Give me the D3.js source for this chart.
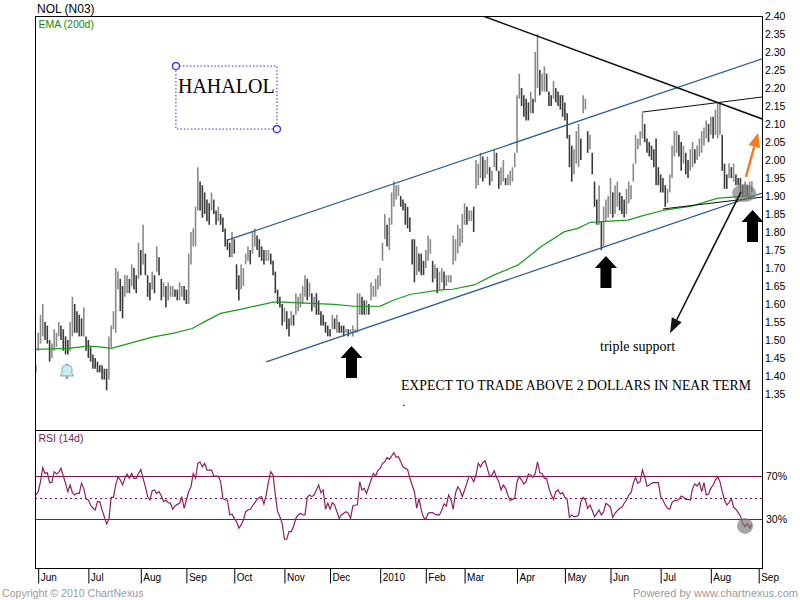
<!DOCTYPE html>
<html lang="en">
<head>
<meta charset="UTF-8">
<title>NOL (N03)</title>
<script src="https://d3js.org/d3.v7.min.js"></script>
<style>
    body { margin: 0; background: #fff; }
    svg { display: block; }
    .sans { font-family: "Liberation Sans", Arial, sans-serif; }
    .serif { font-family: "Liberation Serif", "Times New Roman", serif; }
</style>
</head>
<body>
<svg id="chart" width="800" height="600"></svg>
<script>
// daily bars, first bar sits one trading day before 1 Jun 2009 (index -1), prices in cents
const firstIdx = -1;
const priceHigh = [
    143, 152, 157, 160, 155, 154, 150, 149, 153, 152, 155, 154, 153, 151, 150, 155, 162, 160, 158, 157, 156, 159, 151,
    150, 148, 146, 145, 144, 143, 143, 142, 142, 151, 154, 158, 170, 169, 167, 165, 168, 168, 167, 171, 170, 168,
    177, 175, 182, 174, 168, 166, 169, 168, 176, 173, 167, 166, 165, 166, 165, 165, 164, 164, 166, 165, 165,
    164, 174, 180, 181, 187, 198, 194, 193, 191, 189, 188, 191, 189, 186, 187, 185, 184, 181, 178, 177, 180,
    178, 171, 168, 171, 170, 174, 176, 175, 180, 181, 179, 178, 176, 175, 175, 175, 174, 172, 169, 164, 162,
    160, 159, 158, 156, 158, 157, 163, 162, 163, 165, 168, 167, 166, 163, 162, 163, 161, 158, 157,
    155, 154, 153, 157, 156, 157, 155, 154, 154, 153, 153, 153, 154, 153, 163, 163, 162, 161, 161, 160, 166, 165, 167, 168,
    170, 177, 185, 182, 184, 191, 194, 193, 193, 190, 189, 188, 187, 184, 178, 178, 176, 174, 174, 172,
    175, 179, 178, 172, 171, 170, 169, 170, 169, 168, 168, 168, 179, 178, 182, 181, 185,
    188, 187, 186, 186, 187, 200, 199, 202, 201, 200, 201, 198, 197, 203, 202, 197, 198, 200, 195, 196, 197, 198, 202,
    218, 224, 220, 218, 217, 216, 219, 217, 230, 235, 225, 224, 226, 224, 219, 218, 222, 220, 219, 218, 218,
    216, 213, 207, 204, 203, 208, 210, 206, 218, 217, 208, 207, 202, 194, 189, 193, 183, 187, 189, 190,
    195, 191, 193, 194, 191, 190, 189, 192, 194, 193, 199, 207, 206, 208, 213, 210, 206, 205, 204, 203, 206, 198,
    196, 195, 193, 192, 196, 204, 208, 208, 207, 205, 204, 202, 200, 203, 205, 203, 204, 206, 208, 209, 211, 210,
    212, 212, 214, 216, 216, 207, 199, 196, 199, 198, 199, 196, 195, 195, 193, 194, 193, 194, 194
];
const priceLow = [
    141, 147, 149, 151, 150, 149, 144, 145, 147, 148, 151, 150, 147, 146, 146, 147, 151, 152, 152, 151, 151, 151, 147,
    145, 144, 142, 142, 141, 141, 139, 139, 136, 139, 148, 153, 152, 164, 158, 156, 162, 163, 163, 165, 164, 163,
    167, 168, 171, 168, 162, 161, 164, 163, 169, 168, 161, 162, 159, 161, 162, 162, 162, 161, 161, 162, 161,
    160, 160, 171, 176, 176, 186, 186, 184, 185, 183, 182, 186, 185, 182, 183, 182, 180, 176, 175, 173, 173,
    174, 164, 161, 164, 165, 171, 172, 171, 174, 176, 175, 173, 172, 171, 172, 172, 171, 168, 163, 160, 159,
    154, 155, 153, 151, 154, 154, 157, 158, 159, 160, 162, 161, 162, 158, 159, 157, 157, 154, 154,
    152, 151, 151, 153, 153, 152, 152, 152, 151, 152, 151, 152, 151, 152, 152, 157, 157, 157, 157, 157, 161, 162, 162, 164,
    165, 172, 178, 176, 175, 182, 187, 189, 190, 187, 186, 182, 181, 180, 171, 166, 168, 169, 168, 168,
    170, 172, 174, 166, 167, 163, 164, 166, 164, 165, 166, 166, 171, 172, 174, 176, 177,
    182, 182, 183, 183, 180, 192, 193, 195, 194, 195, 196, 193, 194, 198, 197, 192, 193, 194, 193, 193, 193, 194, 198,
    202, 217, 215, 212, 211, 211, 213, 213, 216, 220, 218, 219, 219, 219, 215, 215, 217, 216, 215, 214, 212,
    211, 206, 198, 194, 196, 199, 198, 200, 213, 214, 202, 203, 196, 187, 182, 182, 175, 176, 183, 184,
    185, 184, 185, 187, 186, 185, 184, 185, 188, 189, 194, 199, 203, 204, 206, 205, 202, 201, 200, 198, 193, 193,
    191, 191, 187, 188, 191, 195, 201, 202, 201, 197, 199, 196, 195, 197, 198, 199, 200, 201, 202, 204, 206, 205,
    207, 206, 207, 206, 207, 197, 192, 192, 195, 195, 194, 193, 193, 191, 190, 190, 190, 190, 191
];

// RSI (14d), same day indexing as the bars
const rsiValues = [
    52.3, 55.3, 64.5, 77.3, 72.1, 72.7, 63.6, 63.6, 73.7, 71.5, 73, 76.7, 69.7, 63, 55.3, 61.5, 54.4, 52.3, 53.8, 53.8,
    63, 58.4, 48.3, 47.7, 43.1, 40.1, 38.6, 46.2, 46.2, 38.6, 32.4, 25.7, 30, 50.2, 50.2, 61.5, 69.1, 66, 61.5, 67.6,
    71.5, 67.6, 72.1, 67.6, 67.6, 72.1, 75.8, 67.6, 59.9, 50.8, 47.7, 56.3, 56.9, 53.8, 55.3, 51.4, 46.2, 47.7, 45.3,
    44.7, 39.2, 42.2, 43.7, 44.7, 50.2, 40.1, 47.7, 55.3, 59.9, 72.1, 67.6, 81.3, 82.5, 78.2, 81.3, 75.2, 75.2, 75.2,
    69.7, 69.7, 69.7, 64.5, 49.2, 47.7, 47.7, 34, 34.9, 30.9, 27.9, 21.8, 24.8, 29.4, 37, 38.6, 39.2, 42.2, 45.3, 48.3,
    50.2, 50.8, 44.1, 52.3, 64.5, 73.7, 70.6, 52.3, 37, 32.4, 26.3, 11.7, 11.7, 18.7, 18.7, 23.3, 30.9, 34, 35.5, 34,
    34, 50.2, 52.3, 50.8, 52.3, 56.9, 61.5, 54.4, 56.9, 39.2, 44.7, 39.2, 45.3, 43.1, 37, 30.9, 34, 35.5, 37, 35.5,
    30.9, 42.2, 43.1, 43.1, 64.5, 56.9, 58.4, 53.8, 59.9, 66, 72.1, 69.7, 75.2, 76.7, 81.3, 82.8, 86.8, 85, 88, 91.1,
    86.8, 87.4, 82.8, 78.2, 76.7, 75.8, 67.6, 61.5, 55.3, 40.1, 49.2, 38.6, 31.8, 30, 35.5, 36.1, 36.1, 34.6, 34, 34,
    38.6, 44.1, 42.2, 52.3, 48.3, 39.2, 53.8, 59.9, 56.9, 50.8, 56.9, 63, 69.7, 68.5, 64.5, 70.6, 81.3, 78.2, 81.9,
    83.7, 76.7, 69.1, 70.6, 74.6, 68.5, 64.5, 56.9, 61.5, 58.4, 52.3, 47.1, 48.3, 49.2, 64.5, 69.1, 66, 62.4, 64.5,
    71.5, 70.6, 68.5, 72.1, 82.8, 72.7, 72.1, 67.6, 67.6, 58.4, 52.3, 48.3, 55.3, 56.9, 53.2, 54.4, 50.2, 48.3, 31.8,
    34, 32.4, 32.4, 34, 46.2, 50.2, 47.7, 40.1, 43.1, 38, 32.4, 35.5, 38.6, 34, 37, 44.7, 43.1, 41, 31.8, 35.5, 38,
    40.1, 41, 44.7, 47.7, 52.3, 54.4, 63, 68.5, 63, 64.5, 75.2, 69.1, 60.5, 61.5, 63, 63.6, 63.6, 63.6, 50.8, 47.7,
    43.1, 40.1, 39.2, 45.3, 47.1, 47.1, 48.3, 51.4, 50.2, 48.3, 48.3, 47.7, 58.4, 62.4, 60.5, 63.6, 55.3, 63.6, 52.3,
    53.2, 58.4, 61.5, 66, 69.1, 64.5, 55.3, 47.7, 43.1, 45.3, 49.2, 41, 39.2, 36.1, 33.1, 26.3, 23.3, 26.3, 21.8, 25.7
];

// EMA (200d) read at points along the green line
const emaIdx = [-1.5, 13, 22, 28, 32, 42.5, 50, 60, 67.5, 73, 80, 88.6, 103, 107.6, 129.7, 140, 150, 156, 163.4,
    176.6, 181.7, 191.2, 200, 210.3, 216, 220.5, 230.8, 236.7, 242.2, 252.7, 258.6, 264.5, 274.7, 286.5, 298.2, 307, 313.7];
const emaVal = [1.474, 1.477, 1.483, 1.480, 1.477, 1.495, 1.508, 1.520, 1.532, 1.551, 1.574, 1.585, 1.605, 1.605,
    1.599, 1.593, 1.594, 1.611, 1.627, 1.639, 1.641, 1.653, 1.681, 1.708, 1.736, 1.759, 1.801, 1.810, 1.827, 1.831,
    1.833, 1.844, 1.861, 1.872, 1.894, 1.898, 1.900];

const monthLabels = ["Jun", "Jul", "Aug", "Sep", "Oct", "Nov", "Dec", "2010", "Feb", "Mar", "Apr", "May", "Jun", "Jul", "Aug", "Sep"];
const monthIdx = [0, 22, 45, 65, 86, 108, 128, 150, 170, 187, 210, 231, 251, 273, 295, 316];

const priceTicks = [1.35, 1.40, 1.45, 1.50, 1.55, 1.60, 1.65, 1.70, 1.75, 1.80, 1.85, 1.90, 1.95, 2.00, 2.05, 2.10, 2.15, 2.20, 2.25, 2.30, 2.35, 2.40];
const rsiTicks = [30, 70];
const rsiTickLabels = ["30%", "70%"];

// drawn annotations, in (day index, price)
const trendLines = [
    { a: [83.3, 1.778], b: [317.5, 2.281], color: "#2f5d96", w: 1.3 },
    { a: [100, 1.439], b: [317.5, 1.908], color: "#2f5d96", w: 1.3 },
    { a: [195.1, 2.40], b: [317.5, 2.114], color: "#111", w: 1.5 },
    { a: [264.8, 2.133], b: [317.5, 2.175], color: "#111", w: 1 },
    { a: [274, 1.864], b: [317.5, 1.897], color: "#111", w: 1 }
];
const blockArrows = [[137.4, 1.483], [249, 1.733], [313.3, 1.861]];

let svg = d3.select("#chart");
let pLeft = 35, pRight = 762, pTop = 16, pMid = 430, pBottom = 568;

let x = d3.scaleLinear().domain([0, 316]).range([38.2, 758.7]);
let y = d3.scaleLinear().domain([1.25, 2.40]).range([pMid, pTop]);
let yr = d3.scaleLinear().domain([30, 70]).range([519.3, 475.7]);

svg.append("rect").attr("width", 800).attr("height", 600).attr("fill", "#fff");

let defs = svg.append("defs");
defs.append("clipPath").attr("id", "clipMain")
    .append("rect").attr("x", pLeft).attr("y", pTop).attr("width", pRight - pLeft).attr("height", pMid - pTop);
defs.append("clipPath").attr("id", "clipRsi")
    .append("rect").attr("x", pLeft).attr("y", pMid).attr("width", pRight - pLeft).attr("height", pBottom - pMid);

let main = svg.append("g").attr("clip-path", "url(#clipMain)");

// price bars
let bars = priceHigh.map((h, k) => ({ i: k + firstIdx, hi: h / 100, lo: priceLow[k] / 100 }));
bars.forEach((d, k) => {
    let prev = k > 0 ? bars[k - 1] : d;
    d.up = (d.hi + d.lo) >= (prev.hi + prev.lo);
});
main.selectAll("line.bar")
    .data(bars)
    .enter()
    .append("line")
    .attr("class", "bar")
    .attr("x1", d => x(d.i))
    .attr("x2", d => x(d.i))
    .attr("y1", d => y(d.hi))
    .attr("y2", d => y(d.lo))
    .attr("stroke", d => d.up ? "#8a8a8a" : "#3a3a3a")
    .attr("stroke-width", 1.6);

// EMA
let emaLine = d3.line().x(d => x(d[0])).y(d => y(d[1]));
main.append("path")
    .datum(emaIdx.map((v, k) => [v, emaVal[k]]))
    .attr("d", emaLine)
    .attr("fill", "none")
    .attr("stroke", "#1e9a1e")
    .attr("stroke-width", 1.2);

// trend lines
main.selectAll("line.trend")
    .data(trendLines)
    .enter()
    .append("line")
    .attr("class", "trend")
    .attr("x1", d => x(d.a[0])).attr("y1", d => y(d.a[1]))
    .attr("x2", d => x(d.b[0])).attr("y2", d => y(d.b[1]))
    .attr("stroke", d => d.color)
    .attr("stroke-width", d => d.w);

// gray highlight around the last bars
main.append("ellipse")
    .attr("cx", x(309.6)).attr("cy", y(1.908))
    .attr("rx", 12).attr("ry", 9)
    .attr("fill", "#777").attr("opacity", 0.65);

function arrowLine(g, from, to, color, width, headLen, headHalf) {
    let x1 = x(from[0]), y1 = y(from[1]), x2 = x(to[0]), y2 = y(to[1]);
    let len = Math.hypot(x2 - x1, y2 - y1);
    let ux = (x2 - x1) / len, uy = (y2 - y1) / len;
    let bx = x2 - ux * headLen, by = y2 - uy * headLen;
    g.append("line")
        .attr("x1", x1).attr("y1", y1).attr("x2", bx).attr("y2", by)
        .attr("stroke", color).attr("stroke-width", width);
    g.append("path")
        .attr("d", `M${x2},${y2}L${bx - uy * headHalf},${by + ux * headHalf}L${bx + uy * headHalf},${by - ux * headHalf}Z`)
        .attr("fill", color);
}

arrowLine(svg, [308.2, 1.911], [277.1, 1.519], "#111", 1.6, 15, 5.5);
arrowLine(svg, [310.4, 1.953], [315.7, 2.075], "#f47a20", 2.4, 14, 6);

// block arrows
svg.selectAll("path.block")
    .data(blockArrows)
    .enter()
    .append("path")
    .attr("class", "block")
    .attr("transform", d => `translate(${x(d[0])},${y(d[1])})`)
    .attr("d", "M0,0L11,12L5.5,12L5.5,32L-5.5,32L-5.5,12L-11,12Z")
    .attr("fill", "#000");

// bell alert icon
let bell = svg.append("g").attr("transform", `translate(${x(12.6)},${y(1.414)})`);
bell.append("path")
    .attr("d", "M-5,3L-5,-2Q-5,-6 0,-6Q5,-6 5,-2L5,3L7,5L-7,5Z")
    .attr("fill", "#c8eef2").attr("stroke", "#8aa4a8").attr("stroke-width", 1);
bell.append("circle").attr("cx", 0).attr("cy", 6.5).attr("r", 1.5).attr("fill", "#8aa4a8");
bell.append("circle").attr("cx", 0).attr("cy", -6.5).attr("r", 1).attr("fill", "#8aa4a8");

// HAHALOL box
let box = svg.append("g");
box.append("rect")
    .attr("x", x(60.4)).attr("y", y(2.261))
    .attr("width", x(104.7) - x(60.4)).attr("height", y(2.086) - y(2.261))
    .attr("fill", "none").attr("stroke", "#2a2af0").attr("stroke-width", 1)
    .attr("stroke-dasharray", "1.5,2");
box.selectAll("circle")
    .data([[60.4, 2.261], [104.7, 2.086]])
    .enter()
    .append("circle")
    .attr("cx", d => x(d[0])).attr("cy", d => y(d[1]))
    .attr("r", 3.5).attr("fill", "#fff").attr("stroke", "#2a2af0").attr("stroke-width", 1.2);
box.append("text").attr("class", "serif")
    .attr("x", x(61.3)).attr("y", y(2.186))
    .attr("font-size", 20).attr("fill", "#000")
    .text("HAHALOL");

svg.append("text").attr("class", "serif")
    .attr("x", x(246.4)).attr("y", y(1.469))
    .attr("font-size", 14).attr("fill", "#000")
    .text("triple support");
svg.append("text").attr("class", "serif")
    .attr("x", x(159.1)).attr("y", y(1.360))
    .attr("font-size", 13.7).attr("fill", "#000")
    .attr("textLength", 350).attr("lengthAdjust", "spacingAndGlyphs")
    .text("EXPECT TO TRADE ABOVE 2 DOLLARS IN NEAR TERM");
svg.append("text").attr("class", "serif")
    .attr("x", x(159.6)).attr("y", y(1.317))
    .attr("font-size", 13).attr("fill", "#000")
    .text(".");

// RSI panel
let rsiG = svg.append("g").attr("clip-path", "url(#clipRsi)");
rsiG.selectAll("line.lvl")
    .data([70, 30])
    .enter()
    .append("line")
    .attr("class", "lvl")
    .attr("x1", pLeft).attr("x2", pRight)
    .attr("y1", d => Math.round(yr(d)) + 0.5).attr("y2", d => Math.round(yr(d)) + 0.5)
    .attr("stroke", "#7a1650").attr("stroke-width", 1);
rsiG.append("line")
    .attr("x1", pLeft).attr("x2", pRight)
    .attr("y1", Math.round(yr(50)) + 0.5).attr("y2", Math.round(yr(50)) + 0.5)
    .attr("stroke", "#7a1650").attr("stroke-width", 1).attr("stroke-dasharray", "2,3");
let rsiLine = d3.line().x(d => x(d.i)).y(d => yr(d.v));
rsiG.append("path")
    .datum(rsiValues.map((v, k) => ({ i: k + firstIdx, v: v })))
    .attr("d", rsiLine)
    .attr("fill", "none")
    .attr("stroke", "#8e1f63")
    .attr("stroke-width", 1.2);
rsiG.append("circle")
    .attr("cx", x(310)).attr("cy", yr(23.9)).attr("r", 8)
    .attr("fill", "#777").attr("opacity", 0.65);

// frames
svg.append("rect")
    .attr("x", pLeft + 0.5).attr("y", pTop + 0.5)
    .attr("width", pRight - pLeft).attr("height", pMid - pTop)
    .attr("fill", "none").attr("stroke", "#000").attr("stroke-width", 1);
svg.append("rect")
    .attr("x", pLeft + 0.5).attr("y", pMid + 0.5)
    .attr("width", pRight - pLeft).attr("height", pBottom - pMid)
    .attr("fill", "none").attr("stroke", "#000").attr("stroke-width", 1);

// right price axis
let yAxis = svg.append("g")
    .attr("transform", `translate(${pRight},0)`)
    .call(d3.axisRight(y).tickValues(priceTicks).tickSize(0).tickPadding(3).tickFormat(d3.format(".2f")));
yAxis.select(".domain").remove();
yAxis.selectAll("text").attr("font-size", 10.5).attr("fill", "#000").attr("font-family", "'Liberation Sans', Arial, sans-serif");

let rAxis = svg.append("g")
    .attr("transform", `translate(${pRight},0)`)
    .call(d3.axisRight(yr).tickValues(rsiTicks).tickSize(0).tickPadding(4).tickFormat((d, k) => rsiTickLabels[k]));
rAxis.select(".domain").remove();
rAxis.selectAll("text").attr("font-size", 10.5).attr("fill", "#000").attr("font-family", "'Liberation Sans', Arial, sans-serif");

// bottom month axis
let xAxis = svg.append("g")
    .attr("transform", `translate(0,${pBottom + 0.5})`)
    .call(d3.axisBottom(x).tickValues(monthIdx).tickSize(15).tickFormat((d, k) => monthLabels[k]));
xAxis.select(".domain").remove();
xAxis.selectAll(".tick line").attr("stroke", "#000");
xAxis.selectAll("text")
    .attr("x", 2).attr("y", 5.5).attr("dy", "0.71em")
    .attr("text-anchor", "start")
    .attr("font-size", 10).attr("fill", "#000")
    .attr("font-family", "'Liberation Sans', Arial, sans-serif");

// titles and footer
svg.append("text").attr("class", "sans").attr("x", 37).attr("y", 12.5)
    .attr("font-size", 12).attr("fill", "#000").text("NOL (N03)");
svg.append("text").attr("class", "sans").attr("x", 38.5).attr("y", 27.5)
    .attr("font-size", 10.5).attr("fill", "#128a12").text("EMA (200d)");
svg.append("text").attr("class", "sans").attr("x", 38.5).attr("y", 442)
    .attr("font-size", 10.5).attr("fill", "#7a1650").text("RSI (14d)");
svg.append("text").attr("class", "sans").attr("x", 2).attr("y", 596.5)
    .attr("font-size", 10.6).attr("fill", "#9a9a9a").text("Copyright \u00a9 2010 ChartNexus");
svg.append("text").attr("class", "sans").attr("x", 798).attr("y", 596.5)
    .attr("text-anchor", "end")
    .attr("font-size", 11).attr("fill", "#9a9a9a").text("Powered by www.chartnexus.com");
</script>
</body>
</html>
